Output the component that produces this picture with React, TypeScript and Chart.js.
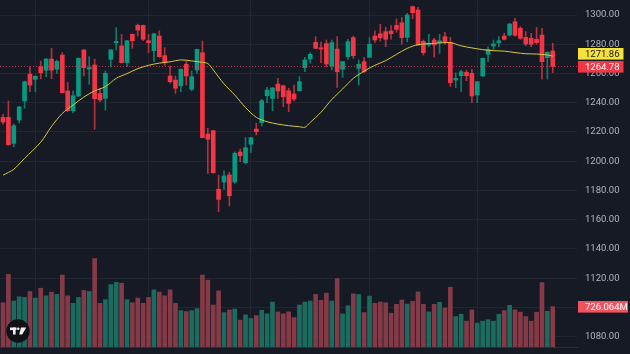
import React, { useEffect, useRef } from "react";
import { Chart, registerables } from "chart.js";

Chart.register(...registerables);

// ---- data ----
const opens = [
  1230.0, 1230.0, 1212.2, 1228.2, 1241.2, 1259.6, 1256.0, 1264.6, 1262.2, 1269.9,
  1262.9, 1272.6, 1248.0, 1234.5, 1244.6, 1276.1, 1263.1, 1265.8, 1246.4, 1243.0,
  1269.7, 1281.1, 1278.8, 1267.4, 1286.8, 1292.9, 1292.9, 1282.4, 1275.6, 1285.6,
  1272.2, 1258.3, 1255.5, 1251.6, 1266.3, 1249.2, 1262.4, 1274.2, 1218.6, 1220.9,
  1180.8, 1185.8, 1190.6, 1185.8, 1206.3, 1199.0, 1211.6, 1222.0, 1226.3, 1244.8,
  1243.0, 1252.8, 1251.6, 1248.2, 1246.0, 1248.2, 1264.0, 1269.9, 1281.3, 1277.6,
  1280.4, 1265.1, 1276.7, 1262.9, 1271.5, 1284.5, 1263.5, 1268.1, 1271.1, 1285.6,
  1287.2, 1288.6, 1289.1, 1292.9, 1294.7, 1284.7, 1305.7, 1303.4, 1282.0, 1279.5,
  1282.9, 1281.1, 1285.2, 1281.3, 1255.5, 1258.5, 1260.8, 1260.1, 1245.3, 1258.3,
  1273.1, 1278.8, 1281.1, 1285.6, 1286.3, 1295.4, 1290.9, 1284.7, 1284.1, 1283.4,
  1286.3, 1270.8, 1275.4,
];
const highs = [
  1232.1, 1241.2, 1225.4, 1237.5, 1254.8, 1264.6, 1258.5, 1268.5, 1270.2, 1277.2,
  1269.2, 1274.2, 1254.0, 1248.2, 1270.6, 1276.4, 1271.5, 1269.9, 1249.9, 1261.7,
  1276.4, 1291.3, 1286.8, 1282.6, 1287.0, 1293.8, 1293.1, 1286.8, 1287.4, 1289.3,
  1277.6, 1265.1, 1258.3, 1263.1, 1268.5, 1261.7, 1276.7, 1282.2, 1222.5, 1221.1,
  1190.4, 1193.5, 1192.4, 1206.5, 1208.3, 1216.3, 1216.3, 1225.9, 1242.3, 1250.5,
  1250.5, 1256.7, 1252.1, 1249.9, 1252.1, 1257.8, 1271.1, 1274.2, 1285.2, 1281.5,
  1282.9, 1282.9, 1285.2, 1268.3, 1283.4, 1285.6, 1269.2, 1271.1, 1284.5, 1289.1,
  1293.6, 1291.6, 1292.7, 1297.3, 1298.2, 1301.2, 1306.2, 1305.3, 1282.9, 1286.8,
  1284.1, 1286.8, 1288.2, 1284.7, 1260.5, 1262.4, 1262.4, 1262.9, 1254.6, 1270.6,
  1278.3, 1282.9, 1285.2, 1287.5, 1294.3, 1297.7, 1292.0, 1288.6, 1287.5, 1291.6,
  1290.9, 1274.9, 1280.6,
];
const lows = [
  1225.4, 1211.0, 1209.9, 1226.3, 1236.2, 1247.5, 1247.5, 1256.4, 1257.8, 1256.4,
  1260.1, 1246.6, 1234.2, 1233.0, 1244.3, 1258.3, 1252.6, 1221.8, 1240.7, 1235.0,
  1264.6, 1276.1, 1267.2, 1264.6, 1277.2, 1285.6, 1282.4, 1274.2, 1268.1, 1271.1,
  1265.6, 1253.3, 1246.4, 1247.5, 1252.1, 1248.2, 1260.1, 1215.9, 1191.7, 1191.9,
  1165.5, 1180.8, 1169.4, 1184.9, 1199.7, 1198.1, 1205.8, 1217.9, 1224.1, 1240.0,
  1234.5, 1243.0, 1237.3, 1233.9, 1241.2, 1248.0, 1261.2, 1267.0, 1277.0, 1267.4,
  1264.6, 1262.4, 1250.5, 1257.4, 1269.7, 1270.4, 1252.1, 1260.5, 1270.9, 1281.3,
  1282.2, 1278.3, 1283.4, 1288.2, 1280.0, 1281.7, 1297.5, 1279.3, 1272.6, 1278.3,
  1271.1, 1273.8, 1280.0, 1251.0, 1250.3, 1247.5, 1255.1, 1240.0, 1240.0, 1258.1,
  1268.1, 1276.1, 1278.3, 1282.9, 1285.6, 1285.6, 1283.4, 1279.0, 1278.3, 1280.0,
  1256.2, 1256.2, 1260.5,
];
const closes = [
  1226.8, 1211.3, 1224.3, 1237.1, 1254.4, 1252.1, 1258.1, 1260.5, 1269.9, 1262.2,
  1268.3, 1246.9, 1234.5, 1244.8, 1270.4, 1264.0, 1264.0, 1242.8, 1241.9, 1260.1,
  1276.1, 1282.0, 1267.4, 1282.4, 1282.4, 1289.7, 1283.4, 1281.1, 1287.2, 1271.5,
  1267.4, 1254.4, 1249.9, 1262.9, 1258.3, 1257.8, 1276.5, 1216.1, 1215.0, 1192.1,
  1173.9, 1189.9, 1176.4, 1205.4, 1203.8, 1209.2, 1216.1, 1220.2, 1241.4, 1248.7,
  1250.1, 1248.0, 1244.1, 1239.6, 1242.5, 1254.4, 1269.2, 1273.1, 1277.2, 1276.7,
  1266.5, 1281.1, 1261.2, 1268.1, 1281.7, 1272.2, 1266.3, 1261.2, 1280.0, 1282.9,
  1284.5, 1283.4, 1287.2, 1290.2, 1284.5, 1300.0, 1301.6, 1279.5, 1274.2, 1280.6,
  1279.5, 1282.4, 1281.1, 1253.7, 1256.7, 1261.2, 1258.5, 1244.6, 1254.4, 1270.4,
  1276.5, 1280.2, 1282.4, 1283.4, 1293.8, 1286.1, 1284.1, 1280.2, 1280.0, 1281.1,
  1268.1, 1274.5, 1264.78,
];
// volume in millions
const volumes = [
  797, 1308, 828, 904, 893, 1000, 881, 1059, 922, 988,
  947, 1296, 922, 787, 893, 1018, 1000, 1593, 787, 851,
  1125, 1166, 1148, 851, 797, 881, 787, 893, 1029, 988,
  922, 1029, 787, 655, 637, 655, 691, 1296, 1204, 757,
  1011, 620, 668, 685, 484, 579, 513, 566, 662, 596,
  810, 632, 596, 632, 530, 757, 810, 828, 947, 840,
  970, 828, 1232, 596, 744, 958, 947, 620, 917, 787,
  810, 797, 609, 769, 846, 774, 822, 993, 769, 632,
  769, 805, 703, 1077, 548, 591, 466, 668, 431, 466,
  490, 466, 591, 655, 751, 668, 627, 548, 466, 627,
  1161, 644, 726.064,
];
const maIndex = [
  0, 2, 4, 7, 9, 11, 13, 15, 17, 19, 21, 23, 25, 27, 29, 31, 33, 35, 37, 38,
  39, 41, 43, 45, 47, 49, 51, 53, 55, 56, 57, 59, 61, 63, 65, 67, 69, 71, 73, 75,
  77, 80, 83, 85, 87, 89, 91, 93, 95, 97, 99, 101, 102,
];
const maValues = [
  1190.5, 1194.5, 1202, 1213, 1223.8, 1232.7, 1238.4, 1243.9, 1248.1, 1251, 1256.7, 1259.9,
  1263.3, 1265.6, 1267.1, 1268, 1269.3, 1268.6, 1267.6, 1266.8, 1262.5, 1252.9, 1245.3, 1236.7,
  1230, 1227, 1225.4, 1224.3, 1223.6, 1223.2, 1226.5, 1233.5, 1242.2, 1249.4, 1256.7, 1261.6,
  1265.6, 1268.8, 1273.1, 1277.2, 1279.7, 1280.6, 1281.1, 1278.9, 1277.5, 1276.3, 1275.6,
  1275.3, 1274.3, 1273.5, 1273.3, 1272.7, 1271.86,
];
const priceTicks = [1080, 1100, 1120, 1140, 1160, 1180, 1200, 1220, 1240, 1260, 1280, 1300];
const monthStartIndex = [6, 27, 46, 68, 88];
const maLast = 1271.86;
const volumeLabel = "726.064M";

// ---- styling ----
const BG = "#161A25";
const GRID = "#222631";
const UP = "#089981";
const DOWN = "#F23645";
const UP_WICK = "#0A7D6A";
const DOWN_WICK = "#B8303C";
const UP_VOL = "#1C6B5F";
const DOWN_VOL = "#843A47";
const TEXT = "#B2B5BE";
const FONT = "Roboto, 'Liberation Sans', sans-serif";
const X_MIN = -0.56;
const X_MAX = 106.5;
const Y_MIN = 1072.96;
const Y_MAX = 1310.26;
const VOL_MAX = 6250;

export default function App() {
  const ref = useRef<HTMLCanvasElement | null>(null);

  useEffect(() => {
    document.body.style.margin = "0";
    document.body.style.background = BG;
    const n = closes.length;
    const up = closes.map((c, i) => c >= opens[i]);
    const lastClose = closes[n - 1];

    const decor = {
      id: "decor",
      beforeDraw(c: any) {
        const ctx = c.ctx;
        ctx.save();
        ctx.fillStyle = BG;
        ctx.fillRect(0, 0, c.width, c.height);
        ctx.restore();
      },
      afterDraw(c: any) {
        const ctx = c.ctx;
        const area = c.chartArea;
        const ys = c.scales.y;
        const yv = c.scales.yv;
        const left = area.right + 1;
        const h = 11.6;
        const box = (cy: number, w: number, fill: string, color: string, text: string) => {
          ctx.fillStyle = fill;
          ctx.fillRect(left, Math.round(cy - h / 2), w, h);
          ctx.fillStyle = color;
          ctx.font = `9.5px ${FONT}`;
          ctx.textAlign = "left";
          ctx.textBaseline = "middle";
          ctx.fillText(text, area.right + 8, Math.round(cy - h / 2) + h / 2 + 0.5);
        };
        ctx.save();
        const lastY = ys.getPixelForValue(lastClose);
        let maY = ys.getPixelForValue(maLast);
        if (maY > lastY - 13) maY = lastY - 13;
        box(maY, 45.5, "#F5E23C", "#131722", maLast.toFixed(2));
        box(lastY, 45.5, DOWN, "#FFFFFF", lastClose.toFixed(2));
        box(yv.getPixelForValue(volumes[n - 1]), 50, "#F4515E", "#FFFFFF", volumeLabel);

        // logo
        const cx = 18, cy = 331;
        ctx.beginPath();
        ctx.arc(cx, cy, 11.7, 0, Math.PI * 2);
        ctx.fillStyle = "#101218";
        ctx.fill();
        ctx.fillStyle = "#F0F0F0";
        ctx.fillRect(cx - 8, cy - 3.5, 6.5, 2.6);
        ctx.fillRect(cx - 5, cy - 3.5, 2.6, 7);
        ctx.beginPath();
        ctx.arc(cx + 0.3, cy - 2.2, 1.3, 0, Math.PI * 2);
        ctx.fill();
        ctx.beginPath();
        ctx.moveTo(cx + 3, cy - 3.5);
        ctx.lineTo(cx + 8.2, cy - 3.5);
        ctx.lineTo(cx + 4.2, cy + 3.5);
        ctx.lineTo(cx + 1.2, cy + 3.5);
        ctx.closePath();
        ctx.fill();
        ctx.restore();
      },
    };

    const chart = new Chart(ref.current as HTMLCanvasElement, {
      type: "bar",
      data: {
        datasets: [
          {
            type: "line",
            label: "MA",
            data: maIndex.map((x, k) => ({ x, y: maValues[k] })),
            borderColor: "#D9C83B",
            borderWidth: 1,
            pointRadius: 0,
            tension: 0.3,
            yAxisID: "y",
            order: 0,
          } as any,
          {
            type: "line",
            label: "last",
            data: [
              { x: X_MIN, y: lastClose },
              { x: X_MAX, y: lastClose },
            ],
            borderColor: "rgba(242,54,69,0.75)",
            borderWidth: 1,
            borderDash: [1, 2],
            pointRadius: 0,
            yAxisID: "y",
            order: 0.5,
          } as any,
          {
            type: "bar",
            label: "body",
            data: closes.map((c, i) => ({ x: i, y: [opens[i], c] })),
            backgroundColor: up.map((u) => (u ? UP : DOWN)),
            barThickness: 4,
            minBarLength: 1,
            grouped: false,
            borderWidth: 0,
            yAxisID: "y",
            order: 1,
          } as any,
          {
            type: "bar",
            label: "wick",
            data: closes.map((_, i) => ({ x: i, y: [lows[i], highs[i]] })),
            backgroundColor: up.map((u) => (u ? UP_WICK : DOWN_WICK)),
            barThickness: 1,
            grouped: false,
            borderWidth: 0,
            yAxisID: "y",
            order: 2,
          } as any,
          {
            type: "bar",
            label: "volume",
            data: volumes.map((v, i) => ({ x: i, y: v })),
            backgroundColor: up.map((u) => (u ? UP_VOL : DOWN_VOL)),
            barThickness: 4,
            grouped: false,
            borderWidth: 0,
            yAxisID: "yv",
            order: 10,
          } as any,
        ],
      },
      options: {
        animation: false,
        responsive: false,
        devicePixelRatio: 1,
        layout: { padding: 0 },
        plugins: { legend: { display: false }, tooltip: { enabled: false } },
        scales: {
          x: {
            type: "linear",
            min: X_MIN,
            max: X_MAX,
            offset: false,
            grid: { color: GRID, drawTicks: false, offset: false },
            border: { display: true, color: "#2A2E39" },
            ticks: { display: false },
            afterBuildTicks: (s: any) => {
              s.ticks = monthStartIndex.map((v) => ({ value: v }));
            },
            afterFit: (s: any) => {
              s.height = 7;
              s.paddingLeft = 0;
              s.paddingRight = 0;
              s.paddingTop = 0;
              s.paddingBottom = 0;
            },
          },
          y: {
            type: "linear",
            position: "right",
            min: Y_MIN,
            max: Y_MAX,
            grid: { color: GRID, drawTicks: false },
            border: { display: false },
            ticks: {
              color: TEXT,
              font: { family: FONT, size: 9.5 },
              padding: 8,
              autoSkip: false,
              callback: (v: any) => Number(v).toFixed(2),
            },
            afterBuildTicks: (s: any) => {
              s.ticks = priceTicks.map((v) => ({ value: v }));
            },
            afterFit: (s: any) => {
              s.width = 53;
              s.paddingTop = 0;
              s.paddingBottom = 0;
              s.paddingLeft = 0;
              s.paddingRight = 0;
            },
          },
          yv: {
            type: "linear",
            display: false,
            min: 0,
            max: VOL_MAX,
          },
        },
      } as any,
      plugins: [decor],
    });
    return () => chart.destroy();
  }, []);

  return (
    <div style={{ width: 630, height: 354 }}>
      <canvas ref={ref} width={630} height={354} style={{ display: "block" }} />
    </div>
  );
}
